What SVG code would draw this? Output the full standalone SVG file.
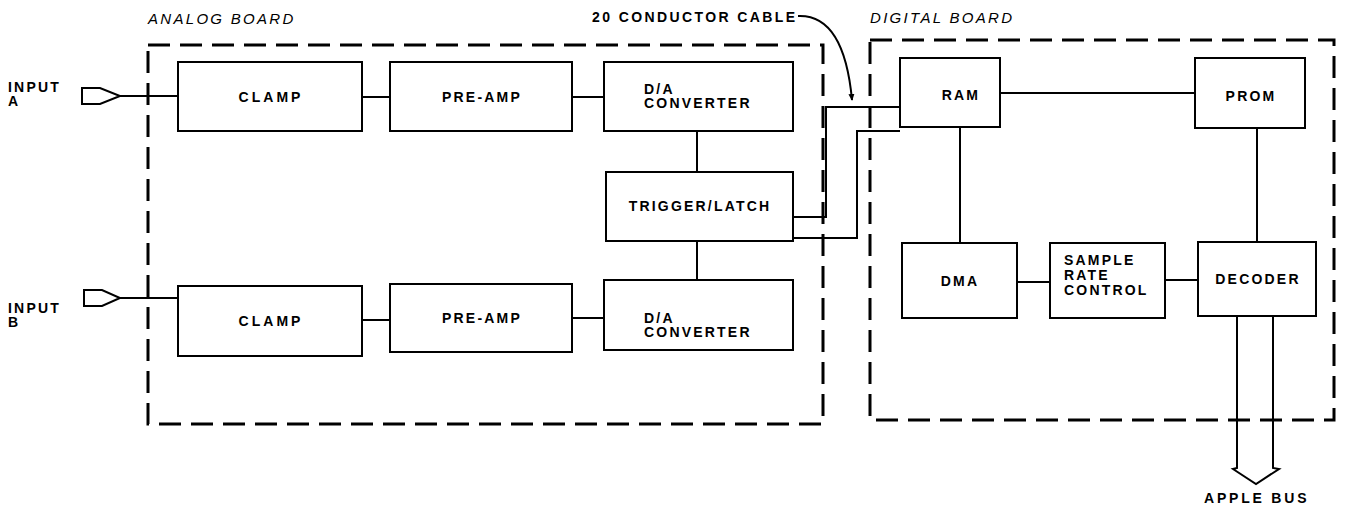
<svg xmlns="http://www.w3.org/2000/svg" width="1346" height="513" viewBox="0 0 1346 513">
<style>
.bg{fill:#fff}
.box{fill:#fff;stroke:#000;stroke-width:2}
.board{fill:none;stroke:#000;stroke-width:3;stroke-dasharray:22 10}
.wire{fill:none;stroke:#000;stroke-width:2}
.t{font-family:"Liberation Sans",Arial,sans-serif;font-weight:bold;font-size:14px;letter-spacing:2.2px;fill:#000}
.c{text-anchor:middle}
.it{font-family:"Liberation Sans",Arial,sans-serif;font-style:italic;font-size:15px;letter-spacing:2.3px;fill:#000}
</style>
<defs>
<marker id="ah" markerWidth="8" markerHeight="8" refX="6" refY="4" orient="auto" markerUnits="userSpaceOnUse">
<path d="M0,1 L7,4 L0,7 Z" fill="#000"/>
</marker>
</defs>
<rect class="bg" width="1346" height="513"/>
<g id="boards">
<text class="it" x="148" y="24">ANALOG BOARD</text>
<rect class="board" x="148" y="45" width="675" height="379"/>
<text class="it" x="870" y="23">DIGITAL BOARD</text>
<rect class="board" x="870" y="40" width="464" height="380"/>
</g>
<g id="connectors">
<path class="wire" d="M120,96 H178"/>
<path class="wire" d="M362,97 H390"/>
<path class="wire" d="M572,97 H604"/>
<path class="wire" d="M697,131 V172"/>
<path class="wire" d="M697,241 V280"/>
<path class="wire" d="M120,298 H178"/>
<path class="wire" d="M362,320 H390"/>
<path class="wire" d="M572,318 H604"/>
<path class="wire" d="M793,217 H826 V107 H900"/>
<path class="wire" d="M793,238 H857 V131 H900"/>
<path class="wire" d="M1000,93 H1195"/>
<path class="wire" d="M960,127 V243"/>
<path class="wire" d="M1257,128 V242"/>
<path class="wire" d="M1017,282 H1050"/>
<path class="wire" d="M1165,280 H1198"/>
<path class="wire" d="M1237,316 V468 L1233,469 L1256,484 L1279,469 L1273,468 V316"/>
<path class="wire" d="M798,16 Q844,14 852,100" marker-end="url(#ah)" stroke-width="1.5"/>
<text class="t" x="592" y="22" style="letter-spacing:2.4px">20 CONDUCTOR CABLE</text>
<text class="t" x="1204" y="503" style="letter-spacing:2.8px">APPLE BUS</text>
</g>
<g id="inputA">
<path class="wire" d="M82,88 H100 L120,96 L100,104 H82 Z"/>
<text class="t" x="8" y="92">INPUT</text>
<text class="t" x="8" y="106">A</text>
</g>
<g id="inputB">
<path class="wire" d="M84,290 H102 L120,298 L102,306 H84 Z"/>
<text class="t" x="8" y="313">INPUT</text>
<text class="t" x="8" y="327">B</text>
</g>
<g id="clampA"><rect class="box" x="178" y="62" width="184" height="69"/><text class="t c" x="271" y="102" style="letter-spacing:3px">CLAMP</text></g>
<g id="preampA"><rect class="box" x="390" y="62" width="182" height="69"/><text class="t c" x="482" y="102">PRE-AMP</text></g>
<g id="daA"><rect class="box" x="604" y="62" width="189" height="69"/><text class="t" x="644" y="94">D/A</text><text class="t" x="644" y="108">CONVERTER</text></g>
<g id="trigger"><rect class="box" x="606" y="172" width="187" height="69"/><text class="t c" x="700" y="211">TRIGGER/LATCH</text></g>
<g id="clampB"><rect class="box" x="178" y="286" width="184" height="70"/><text class="t c" x="271" y="326" style="letter-spacing:3px">CLAMP</text></g>
<g id="preampB"><rect class="box" x="390" y="284" width="182" height="68"/><text class="t c" x="482" y="323">PRE-AMP</text></g>
<g id="daB"><rect class="box" x="604" y="280" width="189" height="70"/><text class="t" x="644" y="323">D/A</text><text class="t" x="644" y="337">CONVERTER</text></g>
<g id="ram"><rect class="box" x="900" y="58" width="100" height="69"/><text class="t c" x="961" y="100">RAM</text></g>
<g id="prom"><rect class="box" x="1195" y="58" width="110" height="70"/><text class="t c" x="1251" y="101">PROM</text></g>
<g id="dma"><rect class="box" x="902" y="243" width="115" height="75"/><text class="t c" x="960" y="286">DMA</text></g>
<g id="src"><rect class="box" x="1050" y="243" width="115" height="75"/><text class="t" x="1064" y="265">SAMPLE</text><text class="t" x="1064" y="280">RATE</text><text class="t" x="1064" y="295">CONTROL</text></g>
<g id="decoder"><rect class="box" x="1198" y="242" width="118" height="74"/><text class="t c" x="1258" y="284">DECODER</text></g>
</svg>
